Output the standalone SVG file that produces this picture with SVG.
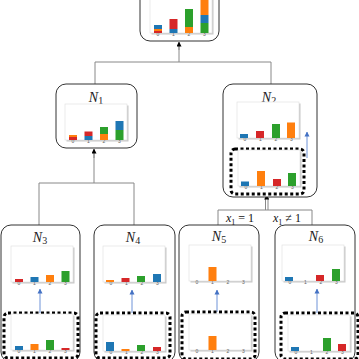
<svg xmlns="http://www.w3.org/2000/svg" width="359" height="359" viewBox="0 0 359 359">
<defs>
<style>
.node{fill:#fff;stroke:#333;stroke-width:1}
.dot{fill:none;stroke:#000;stroke-width:3;stroke-dasharray:3 2.5}
.conn{fill:none;stroke:#888;stroke-width:1}
.blue{fill:none;stroke:#6f93d8;stroke-width:1}
.sh{fill:#c8c8c8}
.fr{fill:#fff;stroke:#e2e2e2;stroke-width:0.7}
.tick{font-family:"Liberation Sans",Arial,sans-serif;font-size:5px;fill:#666;text-anchor:middle}
.lab{font-family:"Liberation Serif","Times New Roman",serif;font-size:14px;fill:#222;text-anchor:middle}
.cond{font-family:"Liberation Serif","Times New Roman",serif;font-size:12px;fill:#111}
.b{fill:#1f77b4}.o{fill:#ff7f0e}.g{fill:#2ca02c}.r{fill:#d62728}
</style>
<marker id="ah" viewBox="0 0 10 10" refX="9" refY="5" markerWidth="5" markerHeight="5" orient="auto" markerUnits="userSpaceOnUse">
<path d="M0,0 L10,5 L0,10 z" fill="#000"/>
</marker>
<marker id="bh" viewBox="0 0 10 10" refX="9" refY="5" markerWidth="5" markerHeight="6" orient="auto" markerUnits="userSpaceOnUse">
<path d="M0,0 L10,5 L0,10 z" fill="#4472c4"/>
</marker>
<g id="frame">
<rect class="sh" x="1.5" y="1.5" width="62" height="36"/>
<rect class="fr" x="0" y="0" width="62" height="36"/>
<text class="tick" x="8" y="38.5">0</text>
<text class="tick" x="23.5" y="38.5">1</text>
<text class="tick" x="39" y="38.5">2</text>
<text class="tick" x="54.5" y="38.5">3</text>
</g>
</defs>
<rect width="359" height="359" fill="#fff"/>

<g id="connectors">
<path class="conn" d="M179,62 V45 M95,62 H271 M95,62 V84 M271,62 V84"/>
<line x1="179" y1="50" x2="179" y2="42" stroke="#888" stroke-width="1" marker-end="url(#ah)"/>
<path class="conn" d="M94,183 V152 M39,183 H134 M39,183 V225 M134,183 V225"/>
<line x1="94" y1="158" x2="94" y2="149" stroke="#888" stroke-width="1" marker-end="url(#ah)"/>
<path class="conn" d="M265.5,210 V199 M268,210 V199 M218,210 H312 M218,210 V225 M312,210 V225"/>
<line x1="266.7" y1="203" x2="266.7" y2="195" stroke="#888" stroke-width="0" marker-end="url(#ah)"/>
<text class="cond" x="226" y="222"><tspan font-style="italic">x</tspan><tspan font-size="8" dy="2.5">1</tspan><tspan dy="-2.5"> = 1</tspan></text>
<text class="cond" x="273" y="222"><tspan font-style="italic">x</tspan><tspan font-size="8" dy="2.5">1</tspan><tspan dy="-2.5"> ≠ 1</tspan></text>
</g>

<g id="root">
<rect class="node" x="140" y="-12" width="79" height="53" rx="10"/>
<g transform="translate(150,-3)">
<use href="#frame"/>
<rect class="r" x="4" y="34" width="8" height="2"/><rect class="o" x="4" y="32" width="8" height="2"/><rect class="b" x="4" y="28" width="8" height="4"/>
<rect class="b" x="19.5" y="32" width="8" height="4"/><rect class="r" x="19.5" y="22" width="8" height="10"/>
<rect class="o" x="35" y="30" width="8" height="6"/><rect class="g" x="35" y="12" width="8" height="18"/>
<rect class="g" x="50.5" y="26" width="8" height="10"/><rect class="b" x="50.5" y="18" width="8" height="8"/><rect class="o" x="50.5" y="3" width="8" height="15"/>
</g>
</g>

<g id="N1">
<rect class="node" x="56" y="84" width="81" height="64" rx="10"/>
<text class="lab" x="96" y="102"><tspan font-style="italic">N</tspan><tspan font-size="10" dy="2">1</tspan></text>
<g transform="translate(65,104)">
<use href="#frame"/>
<rect class="r" x="4" y="33" width="8" height="3"/><rect class="o" x="4" y="31" width="8" height="2"/>
<rect class="b" x="19.5" y="32" width="8" height="4"/><rect class="r" x="19.5" y="27.5" width="8" height="4.5"/>
<rect class="o" x="35" y="30" width="8" height="6"/><rect class="g" x="35" y="23" width="8" height="7"/>
<rect class="g" x="50.5" y="26" width="8" height="10"/><rect class="b" x="50.5" y="17" width="8" height="9"/>
</g>
</g>

<g id="N2">
<rect class="node" x="223" y="84" width="94" height="113" rx="10"/>
<text class="lab" x="269" y="102"><tspan font-style="italic">N</tspan><tspan font-size="10" dy="2">2</tspan></text>
<g transform="translate(237,102)">
<use href="#frame"/>
<rect class="b" x="3" y="32" width="8" height="4"/>
<rect class="r" x="19" y="29" width="8" height="7"/>
<rect class="g" x="35" y="22" width="8" height="14"/>
<rect class="o" x="50" y="20.5" width="8" height="15.5"/>
</g>
<line class="blue" x1="307" y1="158" x2="307" y2="132" marker-end="url(#bh)"/>
<rect class="dot" x="231" y="149" width="73" height="45" rx="4"/>
<g transform="translate(238,150)">
<use href="#frame"/>
<rect class="b" x="3" y="31.5" width="8" height="4.5"/>
<rect class="o" x="19" y="21" width="8" height="15"/>
<rect class="r" x="35" y="29" width="8" height="7"/>
<rect class="g" x="50" y="23" width="8" height="13"/>
</g>
</g>

<g id="N3">
<rect class="node" x="1" y="225" width="79" height="137" rx="10"/>
<text class="lab" x="40" y="242"><tspan font-style="italic">N</tspan><tspan font-size="10" dy="2">3</tspan></text>
<g transform="translate(11,246)">
<use href="#frame"/>
<rect class="r" x="4" y="33" width="8" height="3"/>
<rect class="b" x="19.5" y="31" width="8" height="5"/>
<rect class="o" x="35" y="29" width="8" height="7"/>
<rect class="g" x="50.5" y="25" width="8" height="11"/>
</g>
<line class="blue" x1="40" y1="313" x2="40" y2="289" marker-end="url(#bh)"/>
<rect class="dot" x="4" y="313" width="74" height="45" rx="4"/>
<g transform="translate(11,314)">
<use href="#frame"/>
<rect class="b" x="4" y="32" width="8" height="4"/>
<rect class="o" x="19.5" y="30" width="8" height="6"/>
<rect class="g" x="35" y="26" width="8" height="10"/>
<rect class="r" x="50.5" y="34" width="8" height="2"/>
</g>
</g>

<g id="N4">
<rect class="node" x="94" y="225" width="81" height="137" rx="10"/>
<text class="lab" x="133" y="242"><tspan font-style="italic">N</tspan><tspan font-size="10" dy="2">4</tspan></text>
<g transform="translate(103,246)">
<use href="#frame"/>
<rect class="o" x="3" y="34" width="8" height="2"/>
<rect class="r" x="18.5" y="32" width="8" height="4"/>
<rect class="g" x="34" y="30" width="8" height="6"/>
<rect class="b" x="50" y="28" width="8" height="8"/>
</g>
<line class="blue" x1="132" y1="313" x2="132" y2="290" marker-end="url(#bh)"/>
<rect class="dot" x="96" y="313" width="74" height="45" rx="4"/>
<g transform="translate(103,315)">
<use href="#frame"/>
<rect class="b" x="3" y="27" width="8" height="9"/>
<rect class="o" x="18.5" y="34" width="8" height="2"/>
<rect class="g" x="34" y="30" width="8" height="6"/>
<rect class="r" x="50" y="32" width="8" height="4"/>
</g>
</g>

<g id="N5">
<rect class="node" x="179" y="225" width="80" height="137" rx="10"/>
<text class="lab" x="219" y="241"><tspan font-style="italic">N</tspan><tspan font-size="10" dy="2">5</tspan></text>
<g transform="translate(189,245)">
<use href="#frame"/>
<rect class="o" x="19.5" y="22" width="8" height="14"/>
</g>
<line class="blue" x1="217" y1="312" x2="217" y2="290" marker-end="url(#bh)"/>
<rect class="dot" x="182" y="312" width="73" height="47" rx="4"/>
<g transform="translate(189,314)">
<use href="#frame"/>
<rect class="o" x="19.5" y="22" width="8" height="14"/>
</g>
</g>

<g id="N6">
<rect class="node" x="275" y="225" width="80" height="137" rx="10"/>
<text class="lab" x="316" y="241"><tspan font-style="italic">N</tspan><tspan font-size="10" dy="2">6</tspan></text>
<g transform="translate(282,245)">
<use href="#frame"/>
<rect class="b" x="3" y="32" width="8" height="4"/>
<rect class="r" x="34" y="30" width="8" height="6"/>
<rect class="g" x="50" y="24" width="8" height="12"/>
</g>
<line class="blue" x1="317" y1="313" x2="317" y2="289" marker-end="url(#bh)"/>
<rect class="dot" x="281" y="313" width="77" height="46" rx="4"/>
<g transform="translate(288,315)">
<use href="#frame"/>
<rect class="b" x="3" y="32" width="8" height="4"/>
<rect class="g" x="35" y="23" width="8" height="13"/>
<rect class="r" x="50" y="29" width="8" height="7"/>
</g>
</g>
</svg>
